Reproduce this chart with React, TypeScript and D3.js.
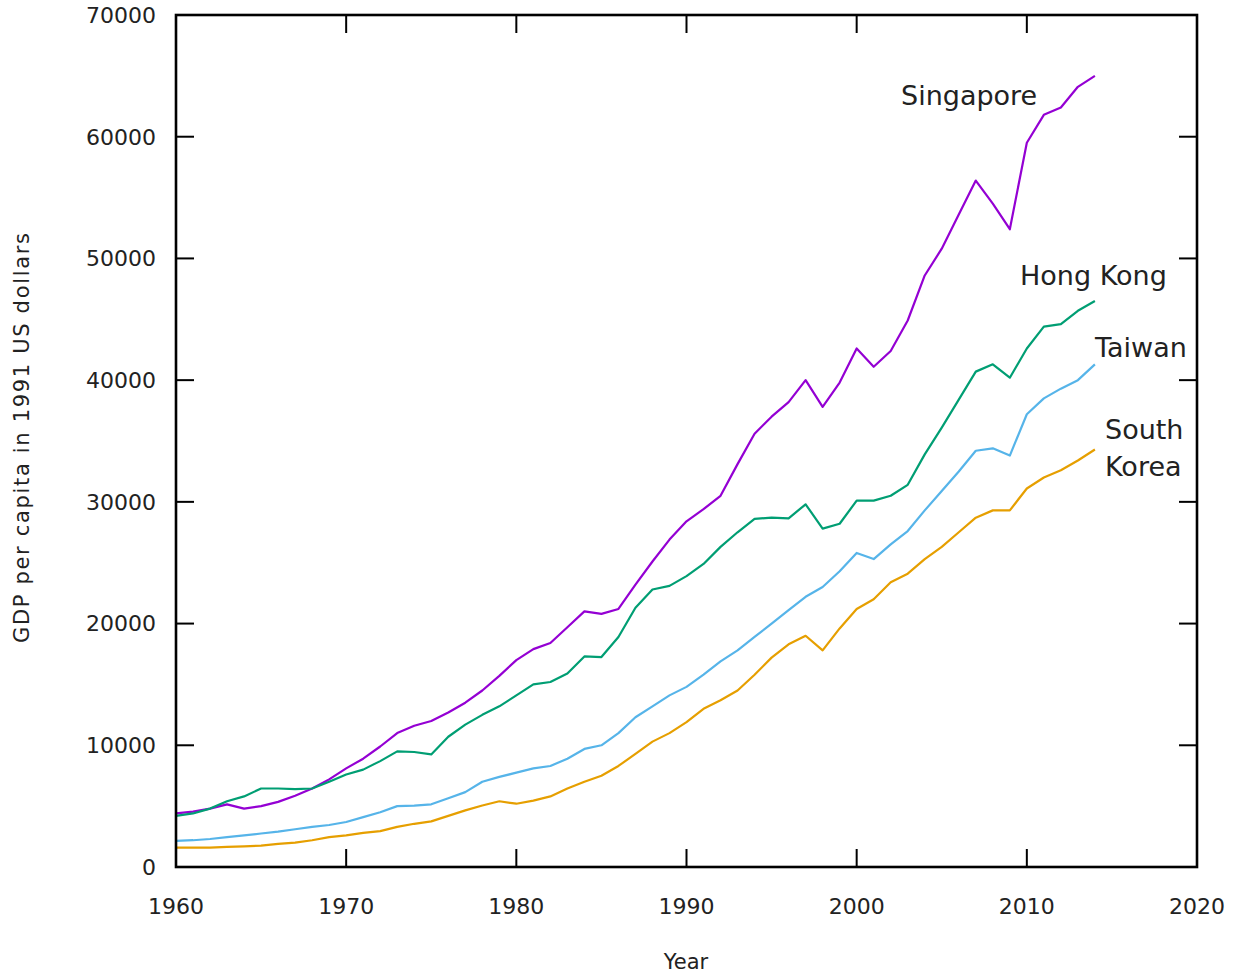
import React from "react";
import * as d3 from "d3";

const years: number[] = d3.range(1960, 2015);

const singapore: number[] = [
  4400, 4550, 4800, 5150, 4800, 5000, 5350, 5850, 6450, 7200,
  8100, 8900, 9900, 11000, 11600, 12000, 12700, 13500, 14500, 15700,
  17000, 17900, 18400, 19700, 21000, 20800, 21200, 23200, 25100, 26900,
  28400, 29400, 30500, 33100, 35600, 37000, 38200, 40000, 37800, 39800,
  42600, 41100, 42400, 44900, 48600, 50800, 53600, 56400, 54500, 52400,
  59500, 61800, 62400, 64100, 65000,
];

const hongKong: number[] = [
  4200, 4400, 4800, 5400, 5800, 6450, 6450, 6400, 6450, 7000,
  7600, 8000, 8700, 9500, 9450, 9250, 10700, 11700, 12500, 13200,
  14100, 15000, 15200, 15900, 17300, 17250, 18900, 21300, 22800, 23100,
  23900, 24900, 26300, 27500, 28600, 28700, 28650, 29800, 27800, 28200,
  30100, 30100, 30500, 31400, 33900, 36100, 38400, 40700, 41300, 40200,
  42600, 44400, 44600, 45700, 46500,
];

const taiwan: number[] = [
  2150, 2200, 2300, 2450, 2600, 2750, 2900, 3100, 3300, 3450,
  3700, 4100, 4500, 5000, 5050, 5150, 5650, 6150, 7000, 7400,
  7750, 8100, 8300, 8900, 9700, 10000, 11000, 12300, 13200, 14100,
  14800, 15800, 16900, 17800, 18900, 20000, 21100, 22200, 23000, 24300,
  25800, 25300, 26500, 27600, 29300, 30900, 32500, 34200, 34400, 33800,
  37200, 38500, 39300, 40000, 41300,
];

const southKorea: number[] = [
  1600, 1600, 1600, 1650, 1700, 1750, 1900, 2000, 2200, 2450,
  2600, 2800, 2950, 3300, 3550, 3750, 4200, 4650, 5050, 5400,
  5200, 5450, 5800, 6450, 7000, 7500, 8300, 9300, 10300, 11000,
  11900, 13000, 13700, 14500, 15800, 17200, 18300, 19000, 17800, 19600,
  21200, 22000, 23400, 24100, 25300, 26300, 27500, 28700, 29300, 29300,
  31100, 32000, 32600, 33400, 34300,
];

const seriesNames: string[] = ["Singapore", "Hong Kong", "Taiwan", "South Korea"];
const seriesColors: string[] = ["#9400d3", "#009e73", "#56b4e9", "#e69f00"];
const xTicks: number[] = [1960, 1970, 1980, 1990, 2000, 2010, 2020];
const yTicks: number[] = [0, 10000, 20000, 30000, 40000, 50000, 60000, 70000];

const W = 1237;
const H = 976;
const L = 176, R = 1197, T = 15, B = 867;
const FONT = "'DejaVu Sans', Verdana, sans-serif";

export default function App() {
  const x = d3.scaleLinear().domain([1960, 2020]).range([L, R]);
  const y = d3.scaleLinear().domain([0, 70000]).range([B, T]);
  const all = [singapore, hongKong, taiwan, southKorea];
  const line = d3
    .line<number>()
    .x((_, i) => x(years[i]))
    .y((d) => y(d));
  const tickLen = 18;

  return (
    <svg
      width={W}
      height={H}
      style={{ position: "absolute", left: 0, top: 0, background: "#fff" }}
      fontFamily={FONT}
    >
      <rect x={0} y={0} width={W} height={H} fill="#fff" />
      {/* ticks */}
      {yTicks.map((t) => (
        <g key={"y" + t}>
          <line x1={L} x2={L + tickLen} y1={y(t)} y2={y(t)} stroke="#000" strokeWidth={2} />
          <line x1={R} x2={R - tickLen} y1={y(t)} y2={y(t)} stroke="#000" strokeWidth={2} />
          <text x={156} y={y(t)} dy="0.36em" textAnchor="end" fontSize={22} fill="#222">
            {t}
          </text>
        </g>
      ))}
      {xTicks.map((t) => (
        <g key={"x" + t}>
          <line x1={x(t)} x2={x(t)} y1={B} y2={B - tickLen} stroke="#000" strokeWidth={2} />
          <line x1={x(t)} x2={x(t)} y1={T} y2={T + tickLen} stroke="#000" strokeWidth={2} />
          <text x={x(t)} y={914} textAnchor="middle" fontSize={22} fill="#222">
            {t}
          </text>
        </g>
      ))}
      {/* series */}
      {all.map((s, i) => (
        <path
          key={seriesNames[i]}
          d={line(s) || ""}
          fill="none"
          stroke={seriesColors[i]}
          strokeWidth={2.2}
          strokeLinejoin="round"
        />
      ))}
      {/* frame */}
      <rect x={L} y={T} width={R - L} height={B - T} fill="none" stroke="#000" strokeWidth={2.6} />
      {/* series labels */}
      <text x={901} y={105} fontSize={27} fill="#222">Singapore</text>
      <text x={1020} y={285} fontSize={27} fill="#222">Hong Kong</text>
      <text x={1095} y={357} fontSize={27} fill="#222">Taiwan</text>
      <text x={1105} y={439} fontSize={27} fill="#222">South</text>
      <text x={1105} y={476} fontSize={27} fill="#222">Korea</text>
      {/* axis titles */}
      <text x={686} y={969} textAnchor="middle" fontSize={21} fill="#222">
        Year
      </text>
      <text
        transform="translate(29,438) rotate(-90)"
        textAnchor="middle"
        fontSize={21}
        fill="#222"
        textLength={410}
        lengthAdjust="spacing"
      >
        GDP per capita in 1991 US dollars
      </text>
    </svg>
  );
}
